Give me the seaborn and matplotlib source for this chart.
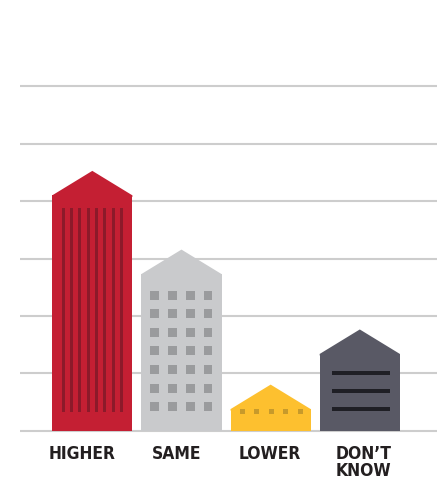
import os
import numpy as np
import pandas as pd
import matplotlib
matplotlib.use("Agg")
import matplotlib.pyplot as plt
from matplotlib import font_manager
from matplotlib.patches import Polygon, Rectangle
import seaborn as sns

# Survey answers and their shares
categories = ["HIGHER", "SAME", "LOWER", "DON\u2019T\nKNOW"]
values = [41.0, 27.3, 3.8, 13.4]

# Building body colours and the darker trim drawn on each facade
colors = ["#c41f33", "#c9cacc", "#fdc02f", "#595965"]
trims = ["#8c1a2a", "#9a9b9d", "#c79a2b", "#1f1f25"]

sns.set_theme(style="white")
plt.rcParams["font.family"] = ["DejaVu Sans"]

THIN = ["Light", "Thin", "Hairline", "Italic", "Oblique", "[", "Variable"]

# a narrow bold face for the category labels, when one is installed
narrow = [f for f in font_manager.fontManager.ttflist
          if ("Narrow" in f.name or "Condensed" in f.name
              or f.stretch in ("condensed", "semi-condensed", 700, 600))
          and f.weight in ("bold", 700, "semibold", 600)
          and not any(x in os.path.basename(f.fname) for x in THIN)]

W, H = 439, 479
fig = plt.figure(figsize=(W / 100, H / 100), dpi=100)
fig.patch.set_facecolor("white")
ax = fig.add_axes([20 / W, 42.3 / H, 417 / W, 436.7 / H])

df = pd.DataFrame({"answer": categories, "share": values})
sns.barplot(data=df, x="answer", y="share", hue="answer", palette=colors,
            width=0.9, saturation=1, legend=False, ax=ax, zorder=3,
            linewidth=0)

ax.set_xlim(-0.811, 3.866)
ax.set_ylim(-1, 75)
ax.set_yticks(range(0, 61, 10))
ax.set_yticklabels([])
ax.yaxis.grid(True, color="#cdcdcd", linewidth=1.5)
ax.xaxis.grid(False)
ax.set_axisbelow(True)
for s in ax.spines.values():
    s.set_visible(False)
ax.set_xlabel("")
ax.set_ylabel("")
ax.tick_params(length=0)

label_shift = [-0.112, -0.058, -0.010, 0.040]
ax.set_xticks(np.arange(len(categories)) + np.array(label_shift))
if narrow:
    fp = font_manager.FontProperties(fname=narrow[0].fname, size=12.5)
else:
    fp = font_manager.FontProperties(family="DejaVu Sans", weight="bold",
                                     size=11)
labels = ax.set_xticklabels(categories, color="#231f20", linespacing=0.95)
for t in labels:
    t.set_fontproperties(fp)
ax.tick_params(axis="x", pad=6)

# pixel -> data unit conversion for drawing facade details
x0, x1 = ax.get_xlim()
y0, y1 = ax.get_ylim()
px = (x1 - x0) / ax.bbox.width
py = (y1 - y0) / ax.bbox.height

roof_h = 24.5 * py


def rect(x, y, w, h, color):
    ax.add_patch(Rectangle((x, y), w, h, facecolor=color, edgecolor="none",
                           zorder=4, clip_on=False))


for i, p in enumerate(ax.patches[:len(values)]):
    bx, bw, bh = p.get_x(), p.get_width(), p.get_height()
    # gable roof, overlapping the wall slightly so no seam shows
    lap = 1.5 * py
    ax.add_patch(Polygon([(bx, bh - lap), (bx, bh),
                          (bx + bw / 2, bh + roof_h),
                          (bx + bw, bh), (bx + bw, bh - lap)],
                         closed=True, facecolor=colors[i], edgecolor="none",
                         zorder=3, clip_on=False))
    t = trims[i]
    if i == 0:
        # vertical pilasters
        for k in range(8):
            rect(bx + (9.6 + 8.3 * k) * px, 19 * py, 3 * px,
                 bh - (19 + 13) * py, t)
    elif i == 1:
        # grid of windows
        for r in range(7):
            for c in range(4):
                top = bh - (16.7 + 18.55 * r) * py
                rect(bx + (9 + 17.8 * c) * px, top - 9 * py,
                     8.7 * px, 9 * py, t)
    elif i == 2:
        # row of small windows
        for c in range(5):
            rect(bx + (9.3 + 14.5 * c) * px, bh - 5 * py, 5 * px, 5 * py, t)
    else:
        # horizontal slats
        for r in range(3):
            cy = bh - (18.7 + 18 * r) * py
            rect(bx + 12.3 * px, cy - 2 * py, bw - (12.3 + 10.3) * px,
                 4 * py, t)

fig.savefig("out.png", dpi=100, facecolor="white")
